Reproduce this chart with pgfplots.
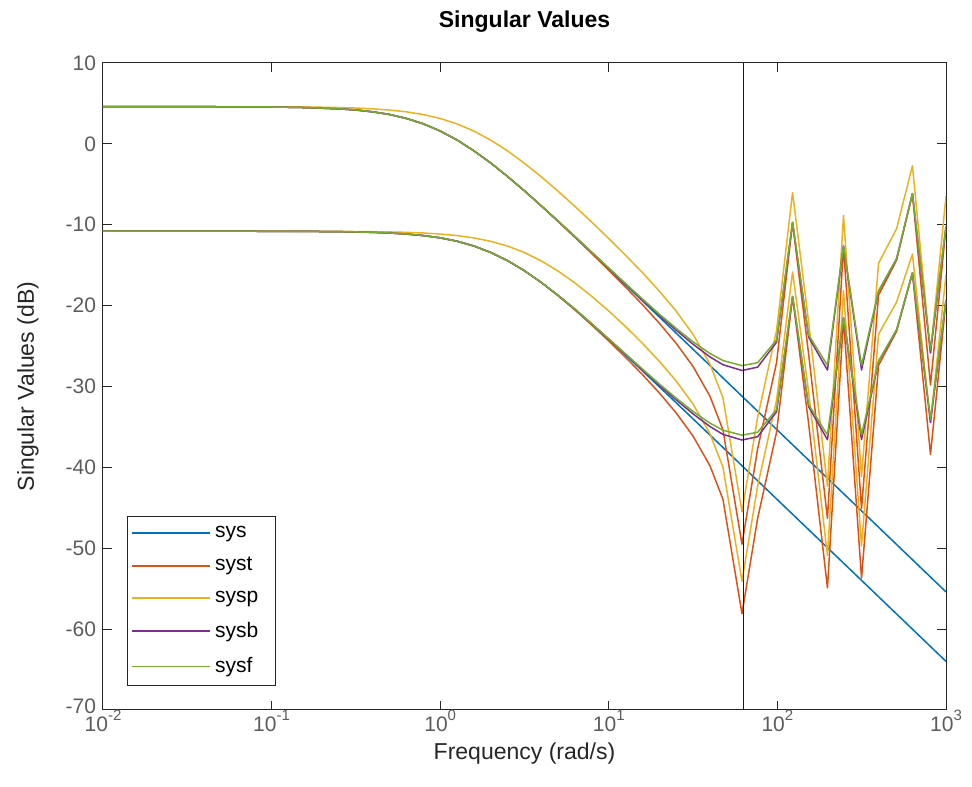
\documentclass[border=0pt]{standalone}
\usepackage{pgfplots}
\pgfplotsset{compat=1.18}
\usepackage{fontspec}
\setmainfont{Liberation Sans}
\definecolor{mblue}{rgb}{0,0.447,0.741}
\definecolor{mred}{rgb}{0.85,0.325,0.098}
\definecolor{myellow}{rgb}{0.929,0.694,0.125}
\definecolor{mpurple}{rgb}{0.494,0.184,0.556}
\definecolor{mgreen}{rgb}{0.466,0.674,0.188}
\definecolor{axgray}{rgb}{0.15,0.15,0.15}
\newcommand{\sups}[1]{\raisebox{0.5em}{\fontsize{7.5bp}{8bp}\selectfont #1}}
\begin{document}
\begin{tikzpicture}
\begin{axis}[name=ax, scale only axis, width=421.5bp, height=323.5bp,
  xmode=log, log basis x=10, xmin=0.01, xmax=1000, ymin=-70, ymax=10,
  ytick={-70,-60,...,10},
  yticklabels={\raisebox{3.5bp}{-70},-60,-50,-40,-30,-20,-10,0,10},
  xtick={0.01,0.1,1,10,100,1000},
  xticklabels={10\sups{-2},10\sups{-1},10\sups{0},10\sups{1},10\sups{2},10\sups{3}},
  /pgf/number format/assume math mode=true,
  axis line style={axgray, line width=0.5bp},
  every tick/.style={axgray, line width=0.5bp},
  major tick length=4.5bp, minor tick length=2.5bp,
  tick label style={font=\fontsize{10.5bp}{12bp}\selectfont, text=axgray!75},
  xticklabel style={yshift=1bp, inner sep=1bp},
  xlabel={Frequency (rad/s)}, ylabel={Singular Values (dB)},
  label style={font=\fontsize{11.5bp}{13bp}\selectfont, text=axgray},
  xlabel style={at={(axis description cs:0.5,-0.067)}, anchor=center, inner sep=1bp},
  ylabel style={at={(axis description cs:-0.089,0.5)}, anchor=center, rotate=0},
  legend style={at={(axis description cs:0.0285,0.037)}, anchor=south west, draw=axgray, line width=0.5bp, fill=white,
    font=\fontsize{10.5bp}{12bp}\selectfont, inner xsep=2bp, inner ysep=3bp, row sep=4.5bp},
  legend cell align=left,
  legend image code/.code={\draw[#1, line width=0.85bp] (0bp,0bp) -- (39bp,0bp);},
  every axis plot/.append style={line width=0.75bp, line join=round},
]
% sys
\addplot[color=mblue, draw=mblue] coordinates {(0.01,4.60)(0.03162,4.60)(0.0631,4.58)(0.1,4.56)(0.1585,4.49)(0.2512,4.33)(0.3162,4.19)(0.3981,3.96)(0.5012,3.63)(0.631,3.14)(0.7943,2.48)(1,1.59)(1.2589,0.48)(1.5849,-0.86)(1.9953,-2.37)(2.5119,-4.04)(3.1623,-5.81)(3.9811,-7.67)(5.0119,-9.57)(6.3096,-11.51)(7.9433,-13.47)(10,-15.44)(12.589,-17.43)(15.849,-19.42)(19.953,-21.41)(25.119,-23.41)(31.623,-25.40)(39.811,-27.40)(47.53,-28.94)(1000,-55.40)};
\addlegendentry{\makebox[26bp][l]{sys}}
\addplot[color=mblue, draw=mblue, forget plot] coordinates {(0.01,-10.80)(0.03162,-10.80)(0.0631,-10.80)(0.1,-10.81)(0.1585,-10.82)(0.2512,-10.86)(0.3162,-10.89)(0.3981,-10.94)(0.5012,-11.02)(0.631,-11.15)(0.7943,-11.34)(1,-11.62)(1.2589,-12.04)(1.5849,-12.63)(1.9953,-13.43)(2.5119,-14.45)(3.1623,-15.69)(3.9811,-17.14)(5.0119,-18.75)(6.3096,-20.49)(7.9433,-22.31)(10,-24.20)(12.589,-26.12)(15.849,-28.07)(19.953,-30.04)(25.119,-32.02)(31.623,-34.01)(39.811,-36.00)(47.53,-37.54)(1000,-63.99)};
% syst
\addplot[color=mred, draw=mred] coordinates {(0.01,4.60)(0.03162,4.60)(0.0631,4.58)(0.1,4.56)(0.1585,4.49)(0.2512,4.33)(0.3162,4.19)(0.3981,3.96)(0.5012,3.63)(0.631,3.14)(0.7943,2.48)(1,1.59)(1.2589,0.48)(1.5849,-0.86)(1.9953,-2.37)(2.5119,-4.05)(3.1623,-5.83)(3.9811,-7.69)(5.0119,-9.61)(6.3096,-11.58)(7.9433,-13.58)(10,-15.63)(12.589,-17.72)(15.849,-19.89)(19.953,-22.18)(25.119,-24.67)(31.623,-27.53)(39.811,-31.20)(47.53,-35.35)(61.66,-49.50)(76.38,-37.70)(98.86,-27.04)(123.03,-9.76)(153.11,-25.95)(198.15,-46.31)(246.6,-12.72)(315.5,-45.11)(398.1,-18.71)(509.3,-14.38)(632.4,-6.17)(809.1,-29.80)(1000,-10.25)};
\addlegendentry{syst}
\addplot[color=mred, draw=mred, forget plot] coordinates {(0.01,-10.80)(0.03162,-10.80)(0.0631,-10.80)(0.1,-10.81)(0.1585,-10.82)(0.2512,-10.86)(0.3162,-10.89)(0.3981,-10.94)(0.5012,-11.02)(0.631,-11.15)(0.7943,-11.34)(1,-11.62)(1.2589,-12.04)(1.5849,-12.63)(1.9953,-13.43)(2.5119,-14.45)(3.1623,-15.70)(3.9811,-17.15)(5.0119,-18.79)(6.3096,-20.55)(7.9433,-22.42)(10,-24.37)(12.589,-26.41)(15.849,-28.54)(19.953,-30.80)(25.119,-33.28)(31.623,-36.14)(39.811,-39.80)(47.53,-43.94)(61.66,-58.09)(76.38,-46.30)(98.86,-35.65)(123.03,-18.92)(153.11,-34.56)(198.15,-54.90)(246.6,-21.61)(315.5,-53.70)(398.1,-27.38)(509.3,-23.18)(632.4,-15.96)(809.1,-38.40)(1000,-19.35)};
% sysp
\addplot[color=myellow, draw=myellow] coordinates {(0.01,4.60)(0.03162,4.60)(0.0631,4.59)(0.1,4.58)(0.1585,4.56)(0.2512,4.49)(0.3162,4.43)(0.3981,4.33)(0.5012,4.18)(0.631,3.96)(0.7943,3.62)(1,3.14)(1.2589,2.47)(1.5849,1.58)(1.9953,0.46)(2.5119,-0.87)(3.1623,-2.41)(3.9811,-4.08)(5.0119,-5.87)(6.3096,-7.75)(7.9433,-9.70)(10,-11.71)(12.589,-13.78)(15.849,-15.93)(19.953,-18.21)(25.119,-20.69)(31.623,-23.56)(39.811,-27.22)(47.53,-31.37)(61.66,-45.50)(76.38,-33.80)(98.86,-23.07)(123.03,-6.01)(153.11,-21.98)(198.15,-42.33)(246.6,-8.86)(315.5,-41.13)(398.1,-14.76)(509.3,-10.49)(632.4,-2.71)(809.1,-25.83)(1000,-6.48)};
\addlegendentry{sysp}
\addplot[color=myellow, draw=myellow, forget plot] coordinates {(0.01,-10.80)(0.03162,-10.80)(0.0631,-10.80)(0.1,-10.80)(0.1585,-10.81)(0.2512,-10.82)(0.3162,-10.84)(0.3981,-10.86)(0.5012,-10.89)(0.631,-10.94)(0.7943,-11.02)(1,-11.15)(1.2589,-11.34)(1.5849,-11.63)(1.9953,-12.05)(2.5119,-12.64)(3.1623,-13.44)(3.9811,-14.48)(5.0119,-15.74)(6.3096,-17.21)(7.9433,-18.87)(10,-20.67)(12.589,-22.60)(15.849,-24.67)(19.953,-26.89)(25.119,-29.33)(31.623,-32.18)(39.811,-35.83)(47.53,-39.97)(61.66,-54.09)(76.38,-42.30)(98.86,-31.69)(123.03,-15.84)(153.11,-30.61)(198.15,-50.92)(246.6,-18.14)(315.5,-49.72)(398.1,-23.54)(509.3,-19.56)(632.4,-13.62)(809.1,-34.43)(1000,-16.19)};
% sysb
\addplot[color=mpurple, draw=mpurple] coordinates {(0.01,4.60)(0.03162,4.60)(0.0631,4.58)(0.1,4.56)(0.1585,4.49)(0.2512,4.33)(0.3162,4.19)(0.3981,3.96)(0.5012,3.63)(0.631,3.14)(0.7943,2.48)(1,1.59)(1.2589,0.48)(1.5849,-0.86)(1.9953,-2.37)(2.5119,-4.04)(3.1623,-5.81)(3.9811,-7.67)(5.0119,-9.56)(6.3096,-11.48)(7.9433,-13.43)(10,-15.39)(12.589,-17.34)(15.849,-19.28)(19.953,-21.19)(25.119,-23.04)(31.623,-24.78)(39.811,-26.34)(47.53,-27.31)(61.66,-28.02)(76.38,-27.61)(98.86,-24.52)(123.03,-9.70)(153.11,-23.88)(198.15,-27.98)(246.6,-12.60)(315.5,-27.96)(398.1,-18.24)(509.3,-14.21)(632.4,-6.15)(809.1,-25.84)(1000,-10.18)};
\addlegendentry{sysb}
\addplot[color=mpurple, draw=mpurple, forget plot] coordinates {(0.01,-10.80)(0.03162,-10.80)(0.0631,-10.80)(0.1,-10.81)(0.1585,-10.82)(0.2512,-10.86)(0.3162,-10.89)(0.3981,-10.94)(0.5012,-11.02)(0.631,-11.15)(0.7943,-11.34)(1,-11.62)(1.2589,-12.04)(1.5849,-12.63)(1.9953,-13.43)(2.5119,-14.45)(3.1623,-15.69)(3.9811,-17.14)(5.0119,-18.74)(6.3096,-20.46)(7.9433,-22.28)(10,-24.15)(12.589,-26.04)(15.849,-27.94)(19.953,-29.83)(25.119,-31.66)(31.623,-33.39)(39.811,-34.95)(47.53,-35.92)(61.66,-36.62)(76.38,-36.21)(98.86,-33.13)(123.03,-18.87)(153.11,-32.49)(198.15,-36.58)(246.6,-21.50)(315.5,-36.56)(398.1,-26.91)(509.3,-23.01)(632.4,-15.94)(809.1,-34.45)(1000,-19.29)};
% sysf
\addplot[color=mgreen, draw=mgreen] coordinates {(0.01,4.60)(0.03162,4.60)(0.0631,4.58)(0.1,4.56)(0.1585,4.49)(0.2512,4.33)(0.3162,4.19)(0.3981,3.96)(0.5012,3.63)(0.631,3.14)(0.7943,2.48)(1,1.59)(1.2589,0.48)(1.5849,-0.86)(1.9953,-2.37)(2.5119,-4.04)(3.1623,-5.81)(3.9811,-7.67)(5.0119,-9.55)(6.3096,-11.47)(7.9433,-13.41)(10,-15.35)(12.589,-17.28)(15.849,-19.19)(19.953,-21.05)(25.119,-22.83)(31.623,-24.48)(39.811,-25.92)(47.53,-26.79)(61.66,-27.42)(76.38,-27.06)(98.86,-24.23)(123.03,-9.69)(153.11,-23.63)(198.15,-27.39)(246.6,-12.58)(315.5,-27.37)(398.1,-18.17)(509.3,-14.18)(632.4,-6.15)(809.1,-25.46)(1000,-10.17)};
\addlegendentry{sysf}
\addplot[color=mgreen, draw=mgreen, forget plot] coordinates {(0.01,-10.80)(0.03162,-10.80)(0.0631,-10.80)(0.1,-10.81)(0.1585,-10.82)(0.2512,-10.86)(0.3162,-10.89)(0.3981,-10.94)(0.5012,-11.02)(0.631,-11.15)(0.7943,-11.34)(1,-11.62)(1.2589,-12.04)(1.5849,-12.63)(1.9953,-13.43)(2.5119,-14.45)(3.1623,-15.69)(3.9811,-17.14)(5.0119,-18.73)(6.3096,-20.45)(7.9433,-22.26)(10,-24.11)(12.589,-25.98)(15.849,-27.85)(19.953,-29.69)(25.119,-31.45)(31.623,-33.09)(39.811,-34.53)(47.53,-35.40)(61.66,-36.02)(76.38,-35.66)(98.86,-32.84)(123.03,-18.86)(153.11,-32.24)(198.15,-35.99)(246.6,-21.48)(315.5,-35.97)(398.1,-26.84)(509.3,-22.98)(632.4,-15.94)(809.1,-34.07)(1000,-19.28)};
% Nyquist line
\addplot[color=black!90, draw=black!90, line width=0.85bp, forget plot] coordinates {(62.83,-70)(62.83,10)};
\end{axis}
\node[font=\bfseries\fontsize{11.5bp}{13bp}\selectfont, anchor=center] at ([yshift=20.5bp]ax.north) {Singular Values};
\pgfresetboundingbox
\path[use as bounding box] ([shift={(-51.5bp,-38.5bp)}]ax.south west) rectangle ([shift={(13bp,31.5bp)}]ax.north east);
\end{tikzpicture}
\end{document}
